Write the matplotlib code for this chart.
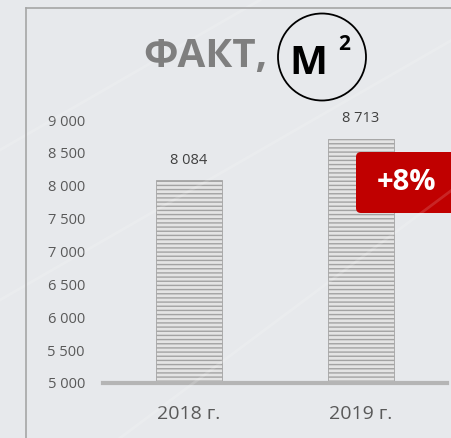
import matplotlib.pyplot as plt
import matplotlib.patches as mpatches
from matplotlib.lines import Line2D
from matplotlib.ticker import FuncFormatter

plt.rcParams['font.family'] = ['Open Sans', 'DejaVu Sans']
plt.rcParams['hatch.linewidth'] = 1.0

# data
years = ['2018 г.', '2019 г.']
values = [8084, 8713]
value_labels = ['8 084', '8 713']
y_ticks = [5000, 5500, 6000, 6500, 7000, 7500, 8000, 8500, 9000]
growth = '+8%'

bg = '#e7e9ec'
W, H = 452, 438

fig = plt.figure(figsize=(W / 100, H / 100), dpi=100, facecolor=bg)

def px(x, y):
    # pixel (from top-left) to inches from bottom-left
    return x / 100, (H - y) / 100

# faint diagonal streaks in the background
for x0, y0, x1, y1 in [(0, 150, 260, 0), (120, 438, 452, 190), (0, 300, 452, 40)]:
    fig.add_artist(Line2D([x0 / 100, x1 / 100], [(H - y0) / 100, (H - y1) / 100],
                          transform=fig.dpi_scale_trans, color='white', alpha=0.15, lw=2))

# frame lines (top and left)
fig.add_artist(Line2D([26 / 100, W / 100], [(H - 8) / 100] * 2,
                      transform=fig.dpi_scale_trans, color='#a6a6a6', lw=1.2))
fig.add_artist(Line2D([26 / 100] * 2, [0, (H - 8) / 100],
                      transform=fig.dpi_scale_trans, color='#a6a6a6', lw=1.2))

ax = fig.add_axes([103 / W, (H - 383) / H, 344 / W, 263 / H])
ax.set_facecolor('none')

x = range(len(years))
ax.bar(x, values, width=0.38, bottom=0, color='#e4e4e4', edgecolor='#a3a3a3',
       hatch='----', linewidth=0.6)
for xi, v, lab in zip(x, values, value_labels):
    ax.text(xi, v + 190, lab, ha='center', va='bottom', fontsize=10.5, color='#404040')

ax.set_xlim(-0.5, 1.5)
ax.set_ylim(5000, 9000)
ax.set_xticks(list(x))
ax.set_xticklabels(years, fontsize=14, color='#595959')
ax.set_yticks(y_ticks)
ax.yaxis.set_major_formatter(FuncFormatter(lambda v, p: f'{int(v):,}'.replace(',', ' ')))
for t in ax.get_yticklabels():
    t.set_fontsize(10.5)
    t.set_color('#595959')
ax.tick_params(axis='both', length=0)
ax.tick_params(axis='y', pad=13)
ax.tick_params(axis='x', pad=16)
for s in ['left', 'right', 'top']:
    ax.spines[s].set_visible(False)
ax.spines['bottom'].set_color('#b5b5b5')
ax.spines['bottom'].set_linewidth(3)

# title
fig.text(205 / W, 1 - 57 / H, 'ФАКТ,', ha='center', va='center', fontsize=29,
         fontweight='bold', color='#7f7f7f')
circ = mpatches.Ellipse(px(322, 57), 0.88, 0.87, transform=fig.dpi_scale_trans,
                        facecolor='none', edgecolor='black', lw=1.3)
fig.add_artist(circ)
fig.text(308 / W, 1 - 63 / H, 'М', ha='center', va='center', fontsize=29,
         fontweight='bold', color='black')
fig.text(344 / W, 1 - 44 / H, '2', ha='center', va='center', fontsize=15,
         fontweight='bold', color='black')

# growth badge
bx, by = px(356, 213)
badge = mpatches.FancyBboxPatch((bx, by), 1.0, 0.61, boxstyle='round,pad=0,rounding_size=0.05',
                                transform=fig.dpi_scale_trans, facecolor='#c00000',
                                edgecolor='none')
fig.add_artist(badge)
fig.text(407 / W, 1 - 183 / H, growth, ha='center', va='center', fontsize=21,
         fontweight='bold', color='white')

fig.savefig('out.png', dpi=100, facecolor=bg)
